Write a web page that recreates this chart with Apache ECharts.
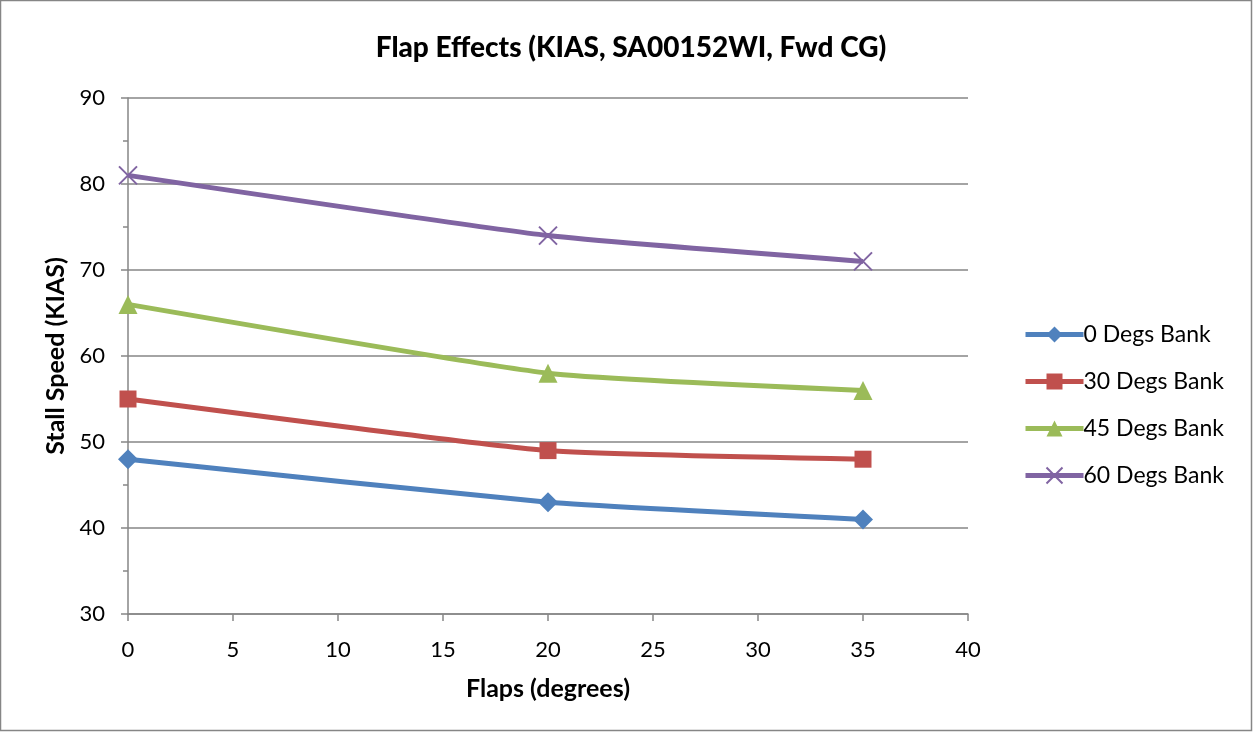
<!DOCTYPE html>
<html><head><meta charset="utf-8">
<script src="https://cdn.jsdelivr.net/npm/echarts@6/dist/echarts.min.js"></script>
<style>html,body{margin:0;padding:0;background:#fff}#c{width:1254px;height:732px}</style>
</head><body><div id="c"></div>
<script>
const flaps = [0, 20, 35];
const bank0 = [48, 43, 41];
const bank30 = [55, 49, 48];
const bank45 = [66, 58, 56];
const bank60 = [81, 74, 71];
const seriesNames = ['0 Degs Bank', '30 Degs Bank', '45 Degs Bank', '60 Degs Bank'];
const colors = ['#4F81BD', '#C0504D', '#9BBB59', '#8064A2'];
const FONT = 'Lato, "Open Sans", sans-serif';
const pair = v => flaps.map((f, i) => [f, v[i]]);
const chart = echarts.init(document.getElementById('c'), null, {renderer: 'canvas'});
const mk = (i, data, symbol, size, extra) => Object.assign({
  name: seriesNames[i], type: 'line', data: pair(data), smooth: 0.15,
  symbol: symbol, symbolSize: size,
  lineStyle: {color: colors[i], width: 5},
  itemStyle: {color: colors[i]},
  z: 2 + i
}, extra || {});
chart.setOption({
  animation: false,
  color: colors,
  title: {text: 'Flap Effects (KIAS, SA00152WI, Fwd CG)', top: 29, left: 626, textAlign: 'center',
    textStyle: {fontFamily: FONT, fontSize: 28, fontWeight: 900, color: '#000'}},
  grid: {left: 128, top: 98, width: 840, height: 516},
  legend: {orient: 'vertical', left: 1018, top: 318, itemGap: 24, itemWidth: 58, itemHeight: 20,
    textStyle: {fontFamily: FONT, fontSize: 23, color: '#000', padding: [0, 0, 0, -5]},
    lineStyle: {width: 5},
    data: seriesNames},
  xAxis: {type: 'value', min: 0, max: 40, interval: 5,
    name: 'Flaps (degrees)', nameLocation: 'middle', nameGap: 62,
    nameTextStyle: {fontFamily: FONT, fontSize: 25, fontWeight: 'bold', color: '#000'},
    axisLine: {lineStyle: {color: '#868686', width: 1.5}},
    axisTick: {show: true, length: 7, lineStyle: {color: '#868686', width: 1.5}},
    axisLabel: {fontFamily: FONT, fontSize: 22, color: '#000', margin: 25},
    splitLine: {show: false}},
  yAxis: {type: 'value', min: 30, max: 90, interval: 10,
    name: 'Stall Speed (KIAS)', nameLocation: 'middle', nameGap: 59, nameRotate: 90,
    nameTextStyle: {fontFamily: FONT, fontSize: 25, fontWeight: 'bold', color: '#000'},
    axisLine: {show: true, lineStyle: {color: '#868686', width: 1.5}},
    axisTick: {show: true, length: 7, lineStyle: {color: '#868686', width: 1.5}},
    minorTick: {show: true, splitNumber: 2, length: 5, lineStyle: {color: '#868686', width: 1.5}},
    axisLabel: {fontFamily: FONT, fontSize: 22, color: '#000', margin: 23},
    splitLine: {show: true, lineStyle: {color: '#868686', width: 1.5}}},
  graphic: [{type: 'rect', shape: {x: 0.5, y: 0.5, width: 1251, height: 730},
    style: {fill: 'none', stroke: '#868686', lineWidth: 1.5}, silent: true, z: -1}],
  series: [
    mk(0, bank0, 'diamond', 20),
    mk(1, bank30, 'rect', 17),
    mk(2, bank45, 'triangle', 19),
    mk(3, bank60, 'path://M0,0L10,10M10,0L0,10', 18,
      {itemStyle: {color: 'none', borderColor: colors[3], borderWidth: 2}})
  ]
});
</script></body></html>
